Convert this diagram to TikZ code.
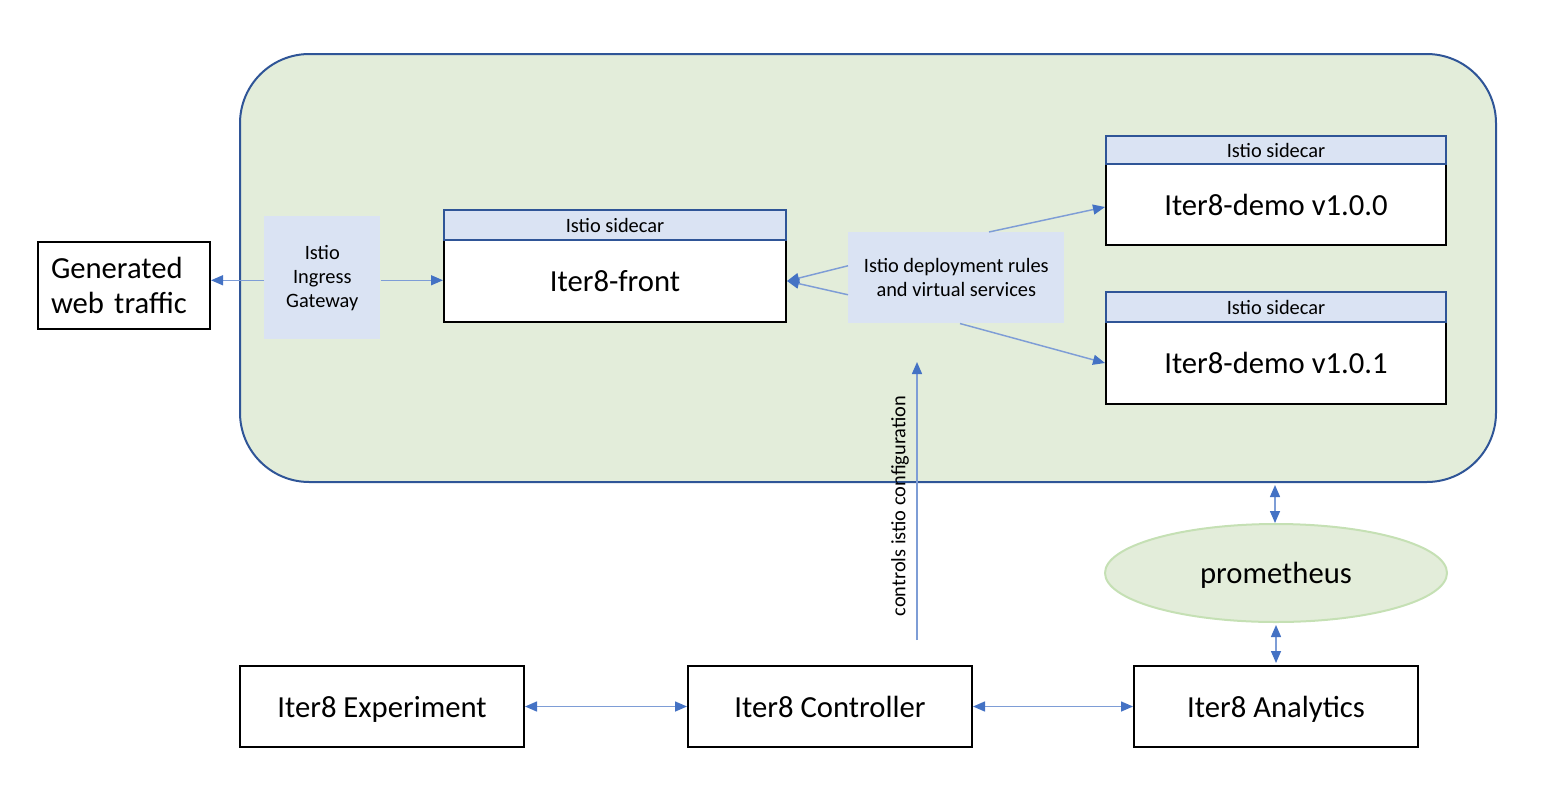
\documentclass[tikz,border=0pt]{standalone}
\usepackage{fontspec}
\setmainfont{Carlito}
\usetikzlibrary{arrows.meta,calc,shapes.geometric}
\definecolor{clusterfill}{HTML}{E3EDDA}
\definecolor{clusterline}{HTML}{2F5597}
\definecolor{sidefill}{HTML}{DAE3F3}
\definecolor{arrline}{HTML}{7E9DD6}
\definecolor{arrtip}{HTML}{4472C4}
\definecolor{promline}{HTML}{C5E0B4}
\tikzset{
  big/.style={font=\fontsize{23}{26.5}\selectfont},
  oneline/.style={text height=21pt, text depth=5pt},
  small/.style={font=\fontsize{15.3}{18}\selectfont},
  whitebox/.style={draw=black, line width=1.5pt, fill=white, inner sep=0pt, anchor=north west, big},
  headbox/.style={draw=clusterline, line width=1.5pt, fill=sidefill, inner sep=0pt, anchor=north west, small},
  bluebox/.style={fill=sidefill, inner sep=0pt, anchor=north west, small, align=center},
  arr/.style={draw=arrline, line width=1.1pt, -{Triangle[length=9pt,width=7.5pt,color=arrtip]}},
  dbl/.style={draw=arrline, line width=1.1pt, {Triangle[length=9pt,width=7.5pt,color=arrtip]}-{Triangle[length=9pt,width=7.5pt,color=arrtip]}},
}
\begin{document}
\begin{tikzpicture}[x=0.75pt,y=-0.75pt]
\useasboundingbox (0,0) rectangle (1556,800);
% cluster
\node[draw=clusterline, line width=1.5pt, fill=clusterfill, rounded corners=52pt, anchor=north west, inner sep=0pt,
  minimum width=1256*0.75pt, minimum height=428*0.75pt] (cluster) at (239,53) {};
% generated web traffic
\node[whitebox, minimum width=172*0.75pt, minimum height=87*0.75pt, align=left,
  inner xsep=13*0.75pt, text width=146*0.75pt] (gen) at (37,241) {Generated\\web traffic};
% ingress
\node[bluebox, minimum width=116*0.75pt, minimum height=123*0.75pt] (ingress) at (264,216) {Istio\\Ingress\\Gateway};
% front
\node[whitebox, oneline, minimum width=342*0.75pt, minimum height=82*0.75pt] (front) at (443,239) {Iter8-front};
\node[headbox, minimum width=342*0.75pt, minimum height=30*0.75pt] (fronthead) at (443,209) {Istio sidecar};
% deployment rules
\node[bluebox, minimum width=216*0.75pt, minimum height=91*0.75pt] (deprules) at (848,232) {Istio deployment rules\\and virtual services};
% demo v1.0.0
\node[whitebox, oneline, minimum width=340*0.75pt, minimum height=81*0.75pt] (demoA) at (1105,163) {Iter8-demo v1.0.0};
\node[headbox, minimum width=340*0.75pt, minimum height=28*0.75pt] (demoAhead) at (1105,135) {Istio sidecar};
% demo v1.0.1
\node[whitebox, oneline, minimum width=340*0.75pt, minimum height=82*0.75pt] (demoB) at (1105,321) {Iter8-demo v1.0.1};
\node[headbox, minimum width=340*0.75pt, minimum height=30*0.75pt] (demoBhead) at (1105,291) {Istio sidecar};
% prometheus
\node[ellipse, draw=promline, line width=1.5pt, fill=clusterfill, inner sep=0pt, oneline,
  minimum width=342*0.75pt, minimum height=98*0.75pt, big] (prom) at (1276,573) {prometheus};
% bottom row
\node[whitebox, oneline, minimum width=284*0.75pt, minimum height=81*0.75pt] (exp) at (239,665) {Iter8 Experiment};
\node[whitebox, oneline, minimum width=284*0.75pt, minimum height=81*0.75pt] (ctrl) at (687,665) {Iter8 Controller};
\node[whitebox, oneline, minimum width=284*0.75pt, minimum height=81*0.75pt] (ana) at (1133,665) {Iter8 Analytics};
% connectors
\draw[arr] ($(ingress.west)+(0,2.5)$) -- ($(ingress.west -| gen.east)+(0,2.5)$);
\draw[arr] ($(ingress.east)+(0,2.5)$) -- ($(ingress.east -| front.west)+(0,2.5)$);
\draw[arr] ($(deprules.west)+(0,-12)$) -- (front.east);
\draw[arr] ($(deprules.west)+(0,17)$) -- (front.east);
\draw[arr] ($(deprules.north west)+(141,0)$) -- ($(demoA.west)+(0,2.5)$);
\draw[arr] ($(deprules.south west)+(112,0)$) -- (demoB.west);
\coordinate (ctrlstart) at (917,640);
\coordinate (ctrlend) at (917,362);
\draw[arr] (ctrlstart) -- (ctrlend);
\node[small, rotate=90] (ctrllabel) at (900,506) {controls istio configuration};
\draw[dbl] ($(prom.north)+(-1,-38)$) -- ($(prom.north)+(-1,0)$);
\draw[dbl, shorten <=1.5pt, shorten >=1.5pt] (prom.south -| ana.north) -- (ana.north);
\draw[dbl] (exp.east) -- (ctrl.west);
\draw[dbl] (ctrl.east) -- (ana.west);
\end{tikzpicture}
\end{document}
